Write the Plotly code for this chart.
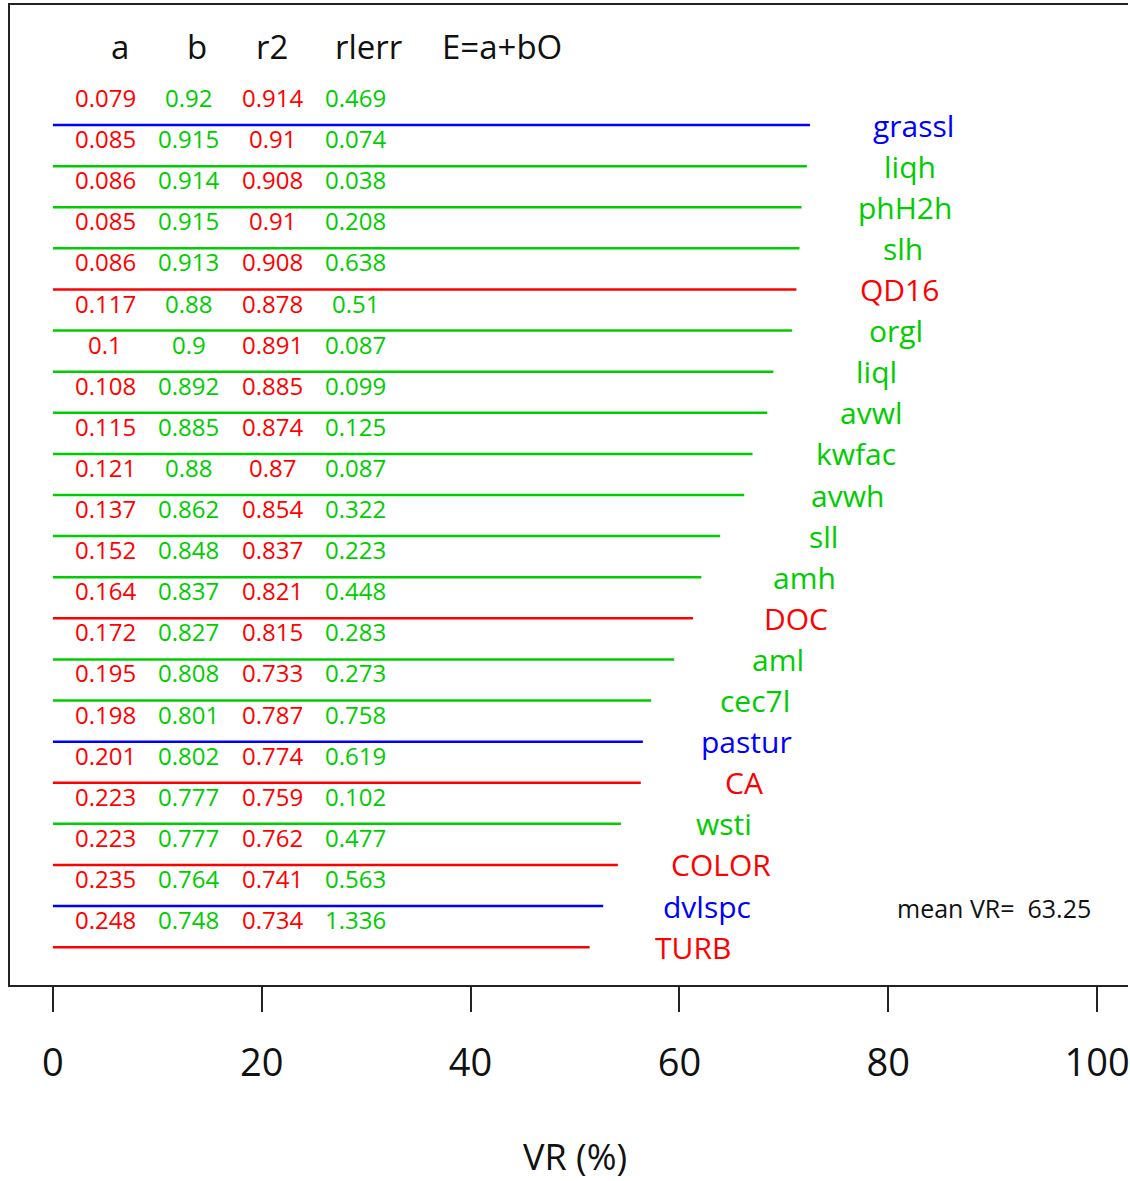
import plotly.graph_objects as go

# ---- data ----
variables = ["grassl", "liqh", "phH2h", "slh", "QD16", "orgl", "liql", "avwl", "kwfac",
             "avwh", "sll", "amh", "DOC", "aml", "cec7l", "pastur", "CA", "wsti",
             "COLOR", "dvlspc", "TURB"]
vr = [72.5, 72.2, 71.7, 71.5, 71.2, 70.8, 69.0, 68.4, 67.0, 66.2, 63.9, 62.1, 61.3,
      59.5, 57.3, 56.5, 56.3, 54.4, 54.1, 52.7, 51.4]
var_color = ["blue", "green", "green", "green", "red", "green", "green", "green", "green",
             "green", "green", "green", "red", "green", "green", "blue", "red", "green",
             "red", "blue", "red"]
a_vals = ["0.079", "0.085", "0.086", "0.085", "0.086", "0.117", "0.1", "0.108", "0.115",
          "0.121", "0.137", "0.152", "0.164", "0.172", "0.195", "0.198", "0.201", "0.223",
          "0.223", "0.235", "0.248"]
b_vals = ["0.92", "0.915", "0.914", "0.915", "0.913", "0.88", "0.9", "0.892", "0.885",
          "0.88", "0.862", "0.848", "0.837", "0.827", "0.808", "0.801", "0.802", "0.777",
          "0.777", "0.764", "0.748"]
r2_vals = ["0.914", "0.91", "0.908", "0.91", "0.908", "0.878", "0.891", "0.885", "0.874",
           "0.87", "0.854", "0.837", "0.821", "0.815", "0.733", "0.787", "0.774", "0.759",
           "0.762", "0.741", "0.734"]
rlerr_vals = ["0.469", "0.074", "0.038", "0.208", "0.638", "0.51", "0.087", "0.099", "0.125",
              "0.087", "0.322", "0.223", "0.448", "0.283", "0.273", "0.758", "0.619", "0.102",
              "0.477", "0.563", "1.336"]
headers = ["a", "b", "r2", "rlerr", "E=a+bO"]
mean_vr = 63.25
x_ticks = [0, 20, 40, 60, 80, 100]

# ---- styling ----
COL = {"red": "#FF0000", "green": "#00CD00", "blue": "#0000FF"}
FONT = "Open Sans, Noto Sans, DejaVu Sans, sans-serif"
col_x = [5, 13, 21, 29]
col_colors = ["red", "green", "red", "green"]
head_x = [6.4, 13.8, 21.0, 30.2, 43.0]
row_off = -0.67
label_off = 9.9

fig = go.Figure()
for i, (v, val, c) in enumerate(zip(variables, vr, var_color)):
    fig.add_trace(go.Scatter(x=[0, val], y=[i, i], mode="lines",
                             line=dict(color=COL[c], width=2.5),
                             showlegend=False, hoverinfo="skip"))

ann = []
for hx, h in zip(head_x, headers):
    ann.append(dict(x=hx, y=-1.9, text=h, showarrow=False, xanchor="center",
                    yanchor="middle", font=dict(family=FONT, size=33, color="#111")))
cols = [a_vals, b_vals, r2_vals, rlerr_vals]
for i in range(len(variables)):
    for cx, cc, colvals in zip(col_x, col_colors, cols):
        ann.append(dict(x=cx, y=i + row_off, text=colvals[i], showarrow=False,
                        xanchor="center", yanchor="middle",
                        font=dict(family=FONT, size=24, color=COL[cc])))
    ann.append(dict(x=vr[i] + label_off, y=i, text=variables[i], showarrow=False,
                    xanchor="center", yanchor="middle",
                    font=dict(family=FONT, size=30, color=COL[var_color[i]])))
ann.append(dict(x=90.1, y=19.05, text="mean VR=\u00a0 " + f"{mean_vr:.2f}", showarrow=False,
                xanchor="center", yanchor="middle",
                font=dict(family=FONT, size=25, color="#111")))
ann.append(dict(x=50, xref="x", y=-0.1755, yref="paper", text="VR (%)", showarrow=False,
                xanchor="center", yanchor="middle",
                font=dict(family=FONT, size=36, color="#111")))

fig.update_layout(
    width=1130, height=1181,
    margin=dict(l=10, r=0, t=5, b=196),
    paper_bgcolor="white", plot_bgcolor="white",
    annotations=ann,
    xaxis=dict(range=[-4.111, 102.96], tickvals=x_ticks, ticktext=[str(t) for t in x_ticks],
               ticks="outside", ticklen=25, tickwidth=2, tickcolor="#222",
               showline=True, mirror=True, linecolor="#222", linewidth=2,
               showgrid=False, zeroline=False, ticklabelstandoff=18,
               ticklabeloverflow="allow",
               tickfont=dict(family=FONT, size=38, color="#111")),
    yaxis=dict(range=[20.92, -2.92], showticklabels=False, ticks="",
               showline=True, linecolor="#222", linewidth=2,
               showgrid=False, zeroline=False),
)

fig.write_html("out.html", config={"displayModeBar": False},
               post_script="document.body.style.margin='0';document.body.style.overflow='hidden';")
